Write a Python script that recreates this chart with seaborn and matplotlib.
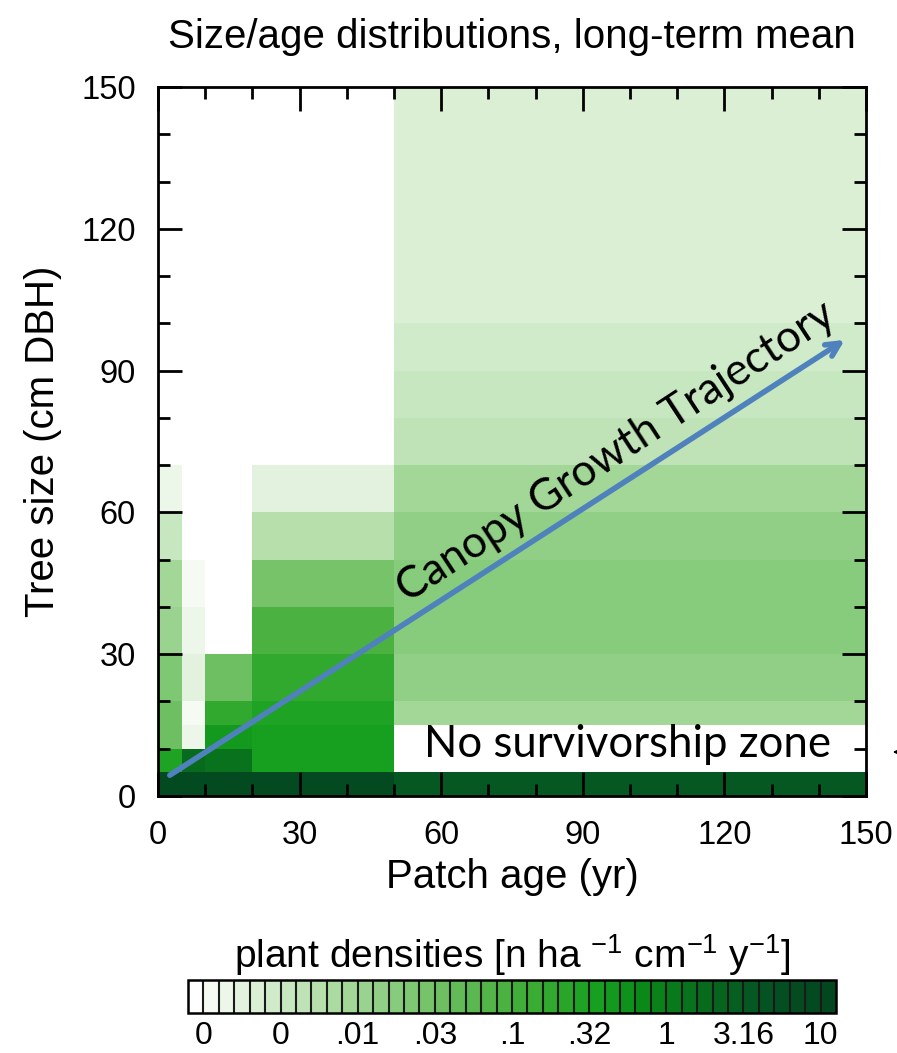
import numpy as np
import pandas as pd
import matplotlib
matplotlib.use("Agg")
import matplotlib.pyplot as plt
from matplotlib.colors import LinearSegmentedColormap, ListedColormap, BoundaryNorm
from matplotlib.cm import ScalarMappable
from matplotlib.patches import FancyArrowPatch
from matplotlib.ticker import MultipleLocator
import seaborn as sns

# ---------------------------------------------------------------------------
# Data: long-term mean plant density [n ha-1 cm-1 y-1] by patch age / tree size
# ---------------------------------------------------------------------------
age_edges = [0, 5, 10, 20, 50, 150]                                   # yr
size_edges = [0, 5, 10, 15, 20, 30, 40, 50, 60, 70, 80, 90, 100, 150]  # cm DBH

nan = np.nan
# one list per patch-age class, values for each size class (bottom to top)
density_age_0_5 = [8.9, 0.28, 0.036, 0.036, 0.022, 0.011, 0.0089, 0.0036, 0.0014,
                   nan, nan, nan, nan]
density_age_5_10 = [8.9, 1.8, 0.0014, 0.0011, 0.0018, 0.0014, 0.0011, nan, nan,
                    nan, nan, nan, nan]
density_age_10_20 = [8.9, 1.4, 0.45, 0.18, 0.036, nan, nan, nan, nan,
                     nan, nan, nan, nan]
density_age_20_50 = [8.9, 0.36, 0.36, 0.28, 0.18, 0.089, 0.028, 0.0056, 0.0018,
                     nan, nan, nan, nan]
density_age_50_150 = [3.5, nan, nan, 0.0089, 0.014, 0.018, 0.018, 0.014, 0.0089,
                      0.0045, 0.0036, 0.0028, 0.0022]

age_ticks = [0, 30, 60, 90, 120, 150]
size_ticks = [0, 30, 60, 90, 120, 150]
cbar_tick_labels = ["0", "0", ".01", ".03", ".1", ".32", "1", "3.16", "10"]

# contour levels: 10 per decade from 0.001 to 10
level_bounds = 10 ** (-3 + np.arange(41) / 10)

# ---------------------------------------------------------------------------
# Expand the class table onto a regular 5x5 grid so it can go into heatmap
# ---------------------------------------------------------------------------
cell = 5
coarse = np.column_stack([density_age_0_5, density_age_5_10, density_age_10_20,
                          density_age_20_50, density_age_50_150])
age_reps = np.diff(age_edges) // cell
size_reps = np.diff(size_edges) // cell
fine = np.repeat(np.repeat(coarse, size_reps, axis=0), age_reps, axis=1)
grid = pd.DataFrame(fine,
                    index=np.arange(0, size_edges[-1], cell) + cell / 2,
                    columns=np.arange(0, age_edges[-1], cell) + cell / 2)

# ---------------------------------------------------------------------------
# Discrete white -> green palette, 42 colours (40 levels + both extensions)
# ---------------------------------------------------------------------------
anchor_pos = [0, 1, 3, 6, 10, 14, 18, 22, 26, 29, 33, 37, 41]
anchor_hex = ["#ffffff", "#f5fbf3", "#e2f2dd", "#c7e7bf", "#a2d797", "#7ec773",
              "#5bb74f", "#3aab33", "#17a020", "#0b8a18", "#076b1d", "#055222",
              "#03471f"]
smooth = LinearSegmentedColormap.from_list(
    "white_green", list(zip(np.array(anchor_pos) / 41, anchor_hex)))
cmap = ListedColormap(smooth(np.linspace(0, 1, 42)))
norm = BoundaryNorm(level_bounds, ncolors=42, extend="both")

# ---------------------------------------------------------------------------
# Figure
# ---------------------------------------------------------------------------
sns.set_theme(style="white")
plt.rcParams["font.family"] = ["Liberation Sans", "DejaVu Sans"]
plt.rcParams["mathtext.fontset"] = "custom"
plt.rcParams["mathtext.rm"] = "Liberation Sans"
plt.rcParams["mathtext.it"] = "Liberation Sans:italic"
plt.rcParams["mathtext.bf"] = "Liberation Sans:bold"
for key in ["text.color", "axes.labelcolor", "xtick.color", "ytick.color"]:
    plt.rcParams[key] = "black"

W, H = 897, 1053
fig = plt.figure(figsize=(W / 100, H / 100), dpi=100)
ax = fig.add_axes([158 / W, 1 - 796 / H, 708 / W, 709 / H])

sns.heatmap(grid, ax=ax, cmap=cmap, norm=norm, cbar=False,
            xticklabels=False, yticklabels=False)
ax.invert_yaxis()   # small trees at the bottom
ax.set_axisbelow(False)

for s in ax.spines.values():
    s.set_visible(True)
    s.set_color("black")
    s.set_linewidth(2.0)
    s.set_zorder(5)

ax.set_xticks(np.array(age_ticks) / cell)
ax.set_xticklabels([str(t) for t in age_ticks], rotation=0)
ax.set_yticks(np.array(size_ticks) / cell)
ax.set_yticklabels([str(t) for t in size_ticks], rotation=0)
ax.xaxis.set_minor_locator(MultipleLocator(10 / cell))
ax.yaxis.set_minor_locator(MultipleLocator(10 / cell))
ax.tick_params(which="both", direction="in", top=True, right=True,
               bottom=True, left=True, color="black", width=2.0)
ax.tick_params(which="major", length=17, labelsize=23.5)
ax.tick_params(axis="x", which="major", pad=17)
ax.tick_params(axis="y", which="major", pad=16)
ax.tick_params(which="minor", length=8.5)

ax.set_xlabel("Patch age (yr)", fontsize=29, labelpad=5)
ax.set_ylabel("Tree size (cm DBH)", fontsize=29, labelpad=14)
ax.set_title("Size/age distributions, long-term mean", fontsize=29, pad=28)

# growth trajectory arrow and labels
ax.annotate("", xy=(145.5 / cell, 96.5 / cell), xytext=(2.5 / cell, 4.4 / cell),
            arrowprops=dict(arrowstyle="->,head_length=0.8,head_width=0.4",
                            color="#4f81bd", lw=4.0, shrinkA=0, shrinkB=0),
            zorder=6)
ax.text(97.0 / cell, 72.8 / cell, "Canopy Growth Trajectory", rotation=33.2,
        rotation_mode="anchor", ha="center", va="center", fontsize=31.5,
        family=["Lato", "DejaVu Sans"], color="black", zorder=6)
ax.text(99.4 / cell, 10.8 / cell, "No survivorship zone", ha="center",
        va="center", fontsize=31.5, family=["Lato", "DejaVu Sans"],
        color="black", zorder=6)

# pointer coming in from the right margin
fig.add_artist(FancyArrowPatch(
    (935, H - 752), (890, H - 752), transform=None,
    arrowstyle="-|>,head_length=0.5,head_width=0.25", color="black", lw=1.2,
    mutation_scale=20))

# ---------------------------------------------------------------------------
# Label bar
# ---------------------------------------------------------------------------
cax = fig.add_axes([188 / W, 1 - 1013 / H, 648 / W, 33 / H])
cb = fig.colorbar(ScalarMappable(norm=norm, cmap=cmap), cax=cax,
                  orientation="horizontal", extend="both", extendrect=True,
                  extendfrac=1 / 40, drawedges=True, ticks=level_bounds[::5])
cb.set_ticklabels(cbar_tick_labels)
cax.minorticks_off()
cax.tick_params(which="both", length=0, labelsize=23, pad=6)
cb.outline.set_linewidth(1.8)
cb.outline.set_edgecolor("black")
cb.dividers.set_linewidth(1.5)
cb.dividers.set_color("#1a1a1a")
fig.text(512 / W, 1 - 955 / H,
         r"plant densities [n ha $^{-1}$ cm$^{-1}$ y$^{-1}$]",
         ha="center", va="center", fontsize=28)

fig.savefig("out.png", dpi=100, facecolor="white")
